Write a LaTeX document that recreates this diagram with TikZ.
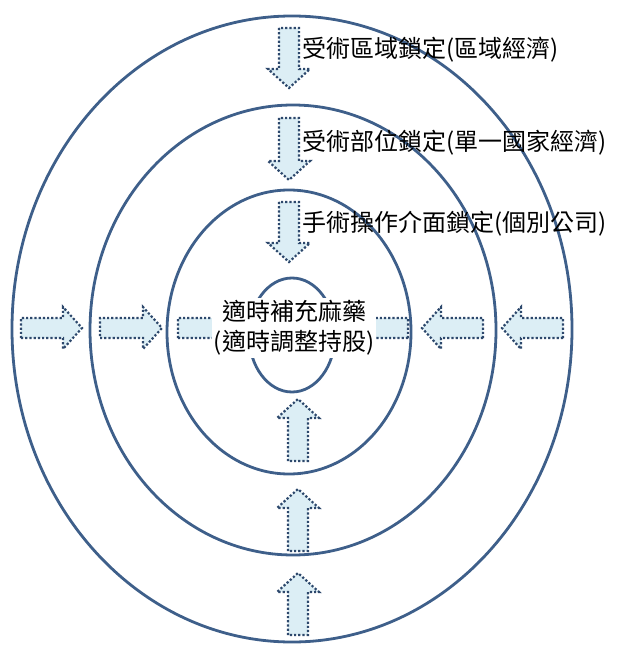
\documentclass[tikz,border=0pt]{standalone}
\usepackage{fontspec}
\newfontfamily\cjk{Noto Sans CJK TC}
\definecolor{ringc}{RGB}{62,95,138}
\definecolor{dotc}{RGB}{45,72,108}
\definecolor{afill}{RGB}{220,238,245}
\newcommand\blkarrow[3]{%
  \begin{scope}[shift={#1},#2]
    \filldraw[arrowbox] (0,-10) -- (#3-19,-10) -- (#3-19,-21) -- (#3,0) -- (#3-19,21) -- (#3-19,10) -- (0,10) -- cycle;
  \end{scope}}
\begin{document}
\begin{tikzpicture}[x=1pt,y=-1pt,
  ring/.style={draw=ringc,line width=2.8pt},
  arrowbox/.style={fill=afill,draw=dotc,line width=2.2pt,dash pattern=on 2.2pt off 2pt},
  toright/.style={x={(1pt,0pt)},y={(0pt,1pt)}},
  toleft/.style={x={(-1pt,0pt)},y={(0pt,1pt)}},
  todown/.style={x={(0pt,-1pt)},y={(1pt,0pt)}},
  toup/.style={x={(0pt,1pt)},y={(1pt,0pt)}},
  lab/.style={anchor=west,inner sep=0pt,font=\cjk\fontsize{24}{24}\selectfont}]
\useasboundingbox (0,0) rectangle (617,660);
% rings
\draw[ring] (292,329) ellipse [x radius=280, y radius=313];
\draw[ring] (293,330) ellipse [x radius=203, y radius=225];
\draw[ring] (289,332) ellipse [x radius=122, y radius=142];
\draw[ring] (292,335) ellipse [x radius=43, y radius=57];
% down arrows
\blkarrow{(289,28)}{todown}{60}
\blkarrow{(289,118)}{todown}{62}
\blkarrow{(289,202)}{todown}{60}
% up arrows
\blkarrow{(298,461)}{toup}{62}
\blkarrow{(298,551)}{toup}{62}
\blkarrow{(298,635)}{toup}{62}
% right-pointing arrows
\blkarrow{(21,328)}{toright}{61}
\blkarrow{(100,328)}{toright}{62}
\blkarrow{(178,328)}{toright}{61}
% left-pointing arrows
\blkarrow{(563,328)}{toleft}{61}
\blkarrow{(483,328)}{toleft}{61}
\blkarrow{(408,328)}{toleft}{61}
% labels
\node[lab] (l1) at (302,50) {受術區域鎖定(區域經濟)};
\node[lab] (l2) at (302,143) {受術部位鎖定(單一國家經濟)};
\node[lab] (l3) at (302,224) {手術操作介面鎖定(個別公司)};
\node[fill=white,inner sep=2pt,align=center,font=\cjk\fontsize{24}{30}\selectfont] (core) at (294,328) {適時補充麻藥\\(適時調整持股)};
\end{tikzpicture}
\end{document}
